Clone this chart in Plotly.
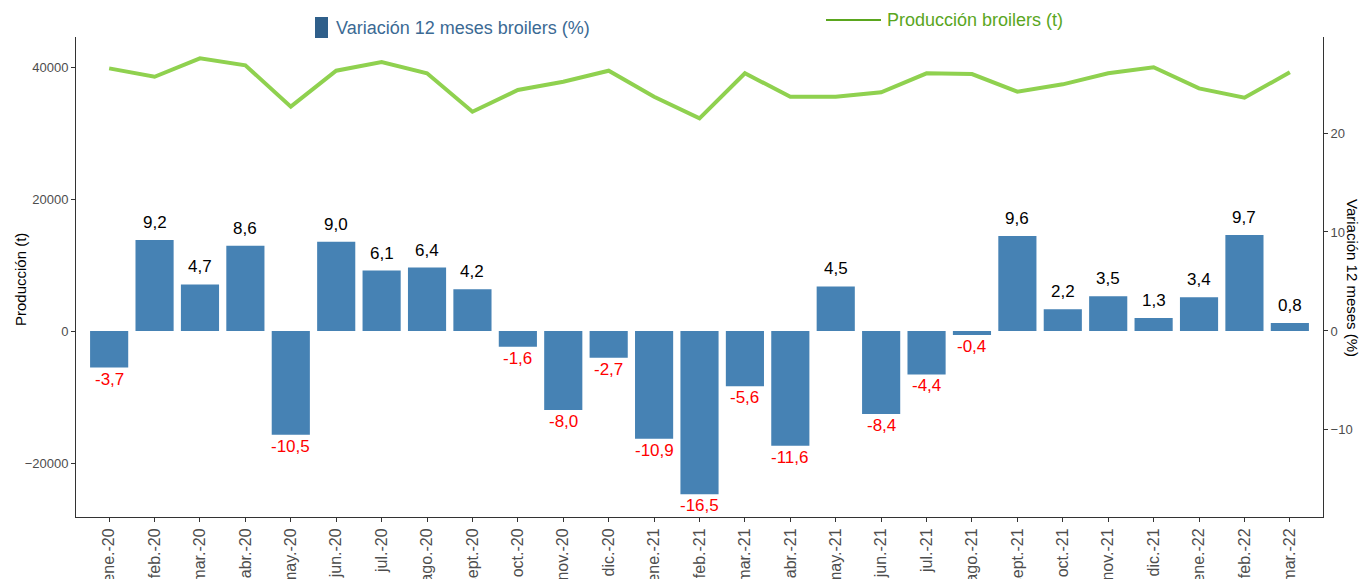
import plotly.graph_objects as go

months = ["ene.-20","feb.-20","mar.-20","abr.-20","may.-20","jun.-20","jul.-20","ago.-20","sept.-20",
          "oct.-20","nov.-20","dic.-20","ene.-21","feb.-21","mar.-21","abr.-21","may.-21","jun.-21",
          "jul.-21","ago.-21","sept.-21","oct.-21","nov.-21","dic.-21","ene.-22","feb.-22","mar.-22"]
variacion = [-3.7, 9.2, 4.7, 8.6, -10.5, 9.0, 6.1, 6.4, 4.2, -1.6, -8.0, -2.7, -10.9, -16.5, -5.6,
             -11.6, 4.5, -8.4, -4.4, -0.4, 9.6, 2.2, 3.5, 1.3, 3.4, 9.7, 0.8]
produccion = [39800, 38530, 41320, 40260, 33990, 39440, 40760, 39050, 33230, 36520, 37770, 39440,
              35500, 32230, 39050, 35500, 35500, 36170, 39050, 38940, 36260, 37380, 39050, 39960,
              36770, 35350, 39200]

FONT = "Liberation Sans, Arial, sans-serif"
x = list(range(len(months)))

fig = go.Figure()
fig.add_trace(go.Bar(x=x, y=variacion, yaxis="y2", marker=dict(color="#4682B4", line=dict(width=0)),
                     width=0.84, showlegend=False, hoverinfo="skip"))
fig.add_trace(go.Scatter(x=x, y=produccion, yaxis="y", mode="lines",
                         line=dict(color="#8FD14F", width=4), showlegend=False, hoverinfo="skip"))

annotations = []
for i, v in enumerate(variacion):
    txt = f"{v:.1f}".replace(".", ",")
    if v >= 0:
        annotations.append(dict(x=i, y=v, xref="x", yref="y2", text=txt, showarrow=False,
                                yanchor="bottom", yshift=6, font=dict(family=FONT, size=17, color="black")))
    else:
        annotations.append(dict(x=i, y=v, xref="x", yref="y2", text=txt, showarrow=False,
                                yanchor="top", yshift=0, font=dict(family=FONT, size=17, color="red")))

# axis titles
annotations.append(dict(x=(20 - 76) / 1247, y=(517 - 280) / 480, xref="paper", yref="paper",
                        text="Producción (t)", showarrow=False, textangle=-90,
                        xanchor="center", yanchor="middle", font=dict(family=FONT, size=15, color="black")))
annotations.append(dict(x=(1353 - 76) / 1247, y=(517 - 278) / 480, xref="paper", yref="paper",
                        text="Variación 12 meses (%)", showarrow=False, textangle=90,
                        xanchor="center", yanchor="middle", font=dict(family=FONT, size=15, color="black")))

# legend as text/shapes
annotations.append(dict(x=(334 - 76) / 1247, y=(517 - 28) / 480, xref="paper", yref="paper",
                        text="Variación 12 meses broilers (%)", showarrow=False, xanchor="left",
                        yanchor="middle", font=dict(family=FONT, size=18, color="#3B6A94")))
annotations.append(dict(x=(885 - 76) / 1247, y=(517 - 20) / 480, xref="paper", yref="paper",
                        text="Producción broilers (t)", showarrow=False, xanchor="left",
                        yanchor="middle", font=dict(family=FONT, size=18, color="#5AA61E")))
shapes = [
    dict(type="rect", xref="paper", yref="paper", x0=(315 - 76) / 1247, x1=(328 - 76) / 1247,
         y0=(517 - 38) / 480, y1=(517 - 17) / 480, fillcolor="#2F5F8A", line=dict(width=0)),
    dict(type="line", xref="paper", yref="paper", x0=(826 - 76) / 1247, x1=(881 - 76) / 1247,
         y0=(517 - 20) / 480, y1=(517 - 20) / 480, line=dict(color="#5AA61E", width=2)),
]

fig.update_layout(
    width=1362, height=579,
    margin=dict(l=76, r=39, t=37, b=62),
    plot_bgcolor="white", paper_bgcolor="white",
    font=dict(family=FONT),
    xaxis=dict(tickmode="array", tickvals=x, ticktext=months, tickangle=-90, range=[-0.73, 26.73],
               showline=True, linecolor="#333333", linewidth=1, ticks="outside", ticklen=4,
               tickcolor="#333333", tickfont=dict(family=FONT, size=16, color="#4D4D4D"),
               showgrid=False, zeroline=False, automargin=False),
    yaxis=dict(range=[-28180, 44550], tickvals=[-20000, 0, 20000, 40000], tickformat="d",
               showline=True, linecolor="#333333", linewidth=1, ticks="outside", ticklen=4,
               tickcolor="#333333", tickfont=dict(family=FONT, size=13, color="#4D4D4D"),
               showgrid=False, zeroline=False, automargin=False),
    yaxis2=dict(range=[-18.8, 29.7], tickvals=[-10, 0, 10, 20], overlaying="y", side="right",
                showline=True, linecolor="#333333", linewidth=1, ticks="outside", ticklen=4,
                tickcolor="#333333", tickfont=dict(family=FONT, size=13, color="#4D4D4D"),
                showgrid=False, zeroline=False, automargin=False),
    annotations=annotations,
    shapes=shapes,
)

fig.write_html("out.html", post_script="document.body.style.margin='0';",
               config={"displayModeBar": False})
